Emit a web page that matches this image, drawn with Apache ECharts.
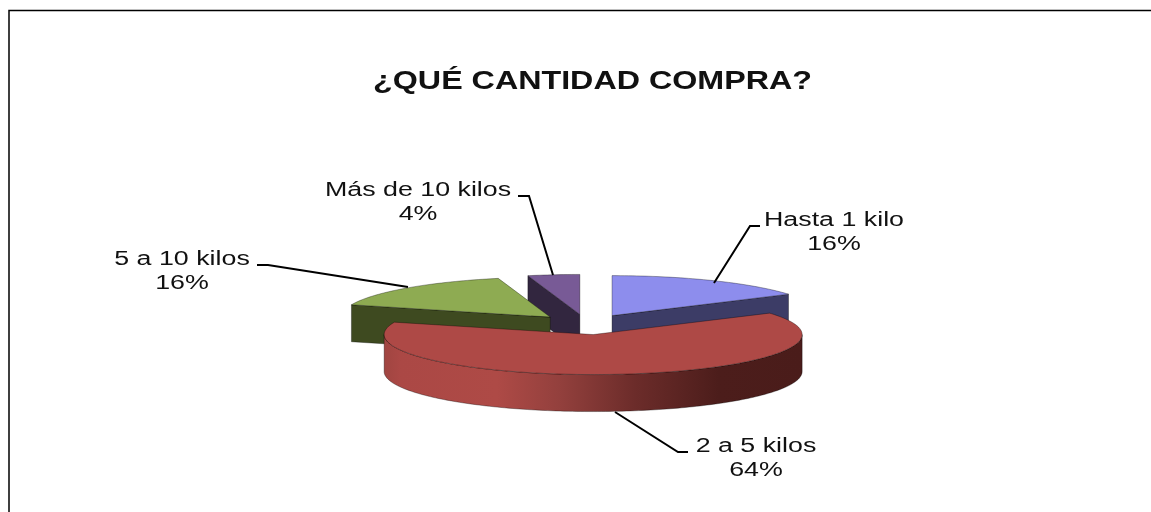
<!DOCTYPE html>
<html><head><meta charset="utf-8">
<style>html,body{margin:0;padding:0;background:#fff}#c{width:1151px;height:512px;filter:blur(0.4px)}</style>
<script src="https://cdn.jsdelivr.net/npm/echarts@6/dist/echarts.min.js"></script>
</head><body><div id="c"></div>
<script>
const titleText = '¿QUÉ CANTIDAD COMPRA?';
const categories = ['Hasta 1 kilo', '2 a 5 kilos', '5 a 10 kilos', 'Más de 10 kilos'];
const values = [16, 64, 16, 4];
const topColors = ['#8d8ded', '#ae4946', '#8eab52', '#785a96'];
const sideColors = ['#3c3c66', '#4a1c1a', '#3e4a20', '#32263f'];

// pie projection
const PIE = {cx: 586.5, cy: 324.5, rx: 209, ry: 40, depth: 37, explode: 53};
// label layout per category: text centre, leader polyline
const LABELS = [
  {x: 834, y: 232, line: [[714, 283], [750, 226], [760, 226]]},
  {x: 756, y: 458, line: [[615, 412], [678, 452], [688, 452]]},
  {x: 182, y: 271, line: [[408, 287], [268, 265], [257, 265]]},
  {x: 418, y: 202, line: [[553, 275], [529, 196], [518, 196]]}
];
const total = values.reduce((a, b) => a + b, 0);
const TAU = Math.PI * 2;

function arcPts(c, a0, a1) {
  const pts = [], n = Math.max(2, Math.ceil(Math.abs(a1 - a0) / 0.02));
  for (let i = 0; i <= n; i++) {
    const a = a0 + (a1 - a0) * i / n;
    pts.push([c[0] + PIE.rx * Math.sin(a), c[1] - PIE.ry * Math.cos(a)]);
  }
  return pts;
}
const edge = 'rgba(0,0,0,0.55)';

function renderItem(params, api) {
  const i = params.dataIndex, v = api.value(0);
  let before = 0;
  for (let k = 0; k < i; k++) before += values[k];
  const a0 = before / total * TAU, a1 = (before + v) / total * TAU, mid = (a0 + a1) / 2;
  const c = [PIE.cx + PIE.explode * Math.sin(mid), PIE.cy - PIE.explode * (PIE.ry / PIE.rx) * Math.cos(mid)];
  const z = Math.round((1 - Math.cos(mid)) * 10) + 1;
  const d = PIE.depth, kids = [];
  const down = p => [p[0], p[1] + d];
  const rim = a => [c[0] + PIE.rx * Math.sin(a), c[1] - PIE.ry * Math.cos(a)];
  const wall = a => {
    const r = rim(a);
    kids.push({type: 'polygon', z2: z, shape: {points: [c, r, down(r), down(c)]},
      style: {fill: sideColors[i], stroke: edge, lineWidth: 0.6}});
  };
  // radial walls that face the viewer
  if (Math.sin(a0) < -1e-6) wall(a0);
  if (Math.sin(a1) > 1e-6) wall(a1);
  // outer wall on the front half
  const w0 = Math.max(a0, Math.PI / 2), w1 = Math.min(a1, Math.PI * 1.5);
  if (w1 > w0) {
    const arc = arcPts(c, w0, w1);
    kids.push({type: 'polygon', z2: z + 1, shape: {points: arc.concat(arc.map(down).reverse())},
      style: {
        fill: new echarts.graphic.LinearGradient(0, 0, 1, 0, [
          {offset: 0, color: '#a04541'}, {offset: 0.04, color: '#ab4845'}, {offset: 0.27, color: '#ae4a46'},
          {offset: 0.42, color: '#93403d'}, {offset: 0.6, color: '#6c2c2a'}, {offset: 0.8, color: '#4c1d1b'}, {offset: 1, color: '#4a1c1a'}]),
        stroke: edge, lineWidth: 0.6}});
  }
  // top face
  kids.push({type: 'polygon', z2: z + 2, shape: {points: [c].concat(arcPts(c, a0, a1))},
    style: {fill: topColors[i], stroke: edge, lineWidth: 0.6}});

  // leader + label
  const L = LABELS[i];
  kids.push({type: 'polyline', z2: 40, shape: {points: L.line}, style: {fill: null, stroke: '#000', lineWidth: 2}});
  kids.push({type: 'text', z2: 41, x: L.x, y: L.y, scaleX: 1.34,
    style: {text: categories[i] + '\n' + Math.round(v / total * 100) + '%', textAlign: 'center', textVerticalAlign: 'middle',
      font: '20px "Liberation Sans"', lineHeight: 24, fill: '#111'}});
  return {type: 'group', children: kids};
}

const chart = echarts.init(document.getElementById('c'), null, {renderer: 'canvas'});
chart.setOption({
  animation: false,
  backgroundColor: '#fff',
  graphic: [
    {type: 'polyline', shape: {points: [[9, 512], [9, 10.5], [1151, 10.5]]}, style: {fill: null, stroke: '#000', lineWidth: 1.5}},
    {type: 'text', x: 592.5, y: 82, scaleX: 1.24, style: {text: titleText, textAlign: 'center', textVerticalAlign: 'middle', font: 'bold 26px "Liberation Sans"', fill: '#111'}}
  ],
  series: [{
    type: 'custom', coordinateSystem: 'none', renderItem,
    data: categories.map((name, i) => ({name, value: [values[i]]}))
  }]
});
</script></body></html>
